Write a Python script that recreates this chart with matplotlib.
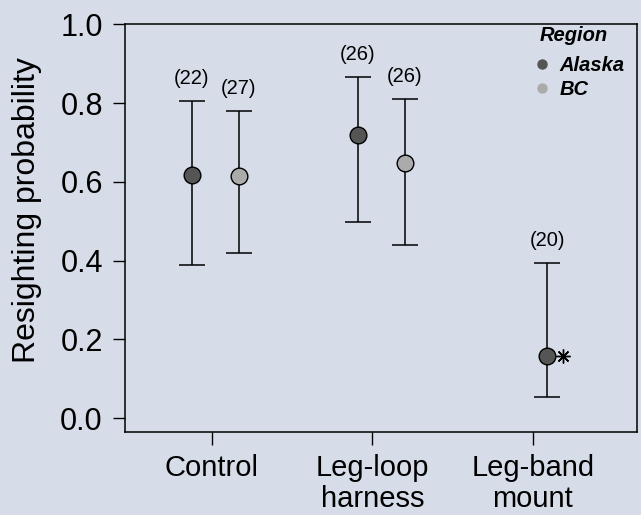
import numpy as np
import matplotlib.pyplot as plt
from matplotlib.lines import Line2D

plt.rcParams['font.family'] = ['Liberation Sans', 'DejaVu Sans']

# treatment groups and regions
groups = ["Control", "Leg-loop\nharness", "Leg-band\nmount"]
regions = ["Alaska", "BC"]

# estimates, lower / upper CI, sample size, x position
x_pos = [0.875, 1.168, 1.91, 2.20, 3.09]
est = [0.617, 0.616, 0.718, 0.647, 0.158]
lo = [0.388, 0.419, 0.497, 0.44, 0.053]
hi = [0.805, 0.779, 0.867, 0.81, 0.395]
n_lab = ["(22)", "(27)", "(26)", "(26)", "(20)"]
reg = ["Alaska", "BC", "Alaska", "BC", "Alaska"]

bg = "#d6dde8"
col = {"Alaska": "#555555", "BC": "#ababab"}

fig = plt.figure(figsize=(6.41, 5.15), dpi=100, facecolor=bg)
ax = fig.add_axes([0.195, 0.161, 0.799, 0.792])
ax.set_facecolor(bg)

for i in range(len(x_pos)):
    ax.errorbar(x_pos[i], est[i], yerr=[[est[i] - lo[i]], [hi[i] - est[i]]],
                fmt="none", ecolor="black", elinewidth=1.1, capsize=9.4, capthick=1.1, zorder=2)
    ax.plot(x_pos[i], est[i], "o", ms=12, mfc=col[reg[i]], mec="black", mew=1.0, zorder=3)
    ax.text(x_pos[i], hi[i] + 0.033, n_lab[i], ha="center", va="bottom", fontsize=14.5)

# significance marker next to leg-band estimate
ax.plot(x_pos[4] + 0.095, est[4], marker=(8, 2, 0), ms=10, color="black", mew=1.0)

ax.set_xlim(0.458, 3.65)
ax.set_ylim(-0.035, 1.0)
ax.set_xticks([1, 2, 3])
ax.set_xticklabels(groups, fontsize=21, linespacing=1.12)
ax.set_yticks([0.0, 0.2, 0.4, 0.6, 0.8, 1.0])
ax.set_yticklabels(["0.0", "0.2", "0.4", "0.6", "0.8", "1.0"], fontsize=22)
ax.tick_params(length=9, width=1, direction="out", pad=7)
ax.tick_params(axis="x", pad=7)
ax.set_ylabel("Resighting probability", fontsize=23)
ax.yaxis.set_label_coords(-0.162, 0.544)
for s in ax.spines.values():
    s.set_linewidth(1.1)

# legend: title drawn separately so it can sit higher
ax.text(0.877, 0.973, "Region", transform=ax.transAxes, ha="center", va="center",
        fontsize=14.5, fontweight="bold", fontstyle="italic")
handles = [Line2D([], [], marker="o", ls="none", ms=6.5, mfc=col[r], mec=col[r]) for r in regions]
leg = ax.legend(handles, regions, loc="upper left", frameon=False,
                prop={"weight": "bold", "style": "italic", "size": 14.5},
                handletextpad=0.35, borderaxespad=0.0, borderpad=0.0, labelspacing=0.25,
                handlelength=1.0, bbox_to_anchor=(0.795, 0.922))

fig.savefig("out.png", dpi=100, facecolor=bg)
